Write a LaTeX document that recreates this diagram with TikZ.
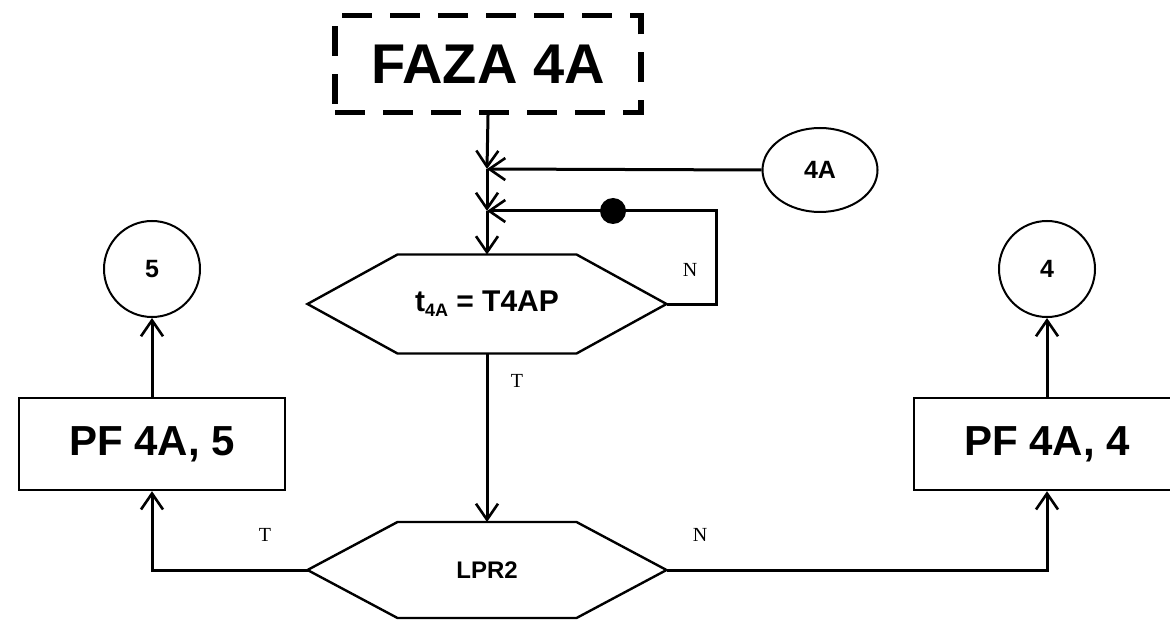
\documentclass[tikz,border=0pt]{standalone}
\usepackage{fontspec}
\setmainfont{Liberation Serif}
\setsansfont{Liberation Sans}
\usetikzlibrary{shapes.geometric,arrows.meta,calc}

\newcommand{\szesciokat}[1]{
\draw[kontur] (#1.west) -- ($(#1.north west)+(90,0)$) -- ($(#1.north east)+(-90,0)$)
  -- (#1.east) -- ($(#1.south east)+(-90,0)$) -- ($(#1.south west)+(90,0)$) -- cycle;
}
\tikzset{
faza/.style={draw,line width=2.6pt,dash pattern=on 15pt off 9pt,minimum width=153pt,minimum height=48.5pt,inner sep=0pt,font=\sffamily\bfseries\fontsize{28}{32}\selectfont},
blok/.style={draw,line width=1.2pt,minimum width=133pt,minimum height=46pt,inner sep=0pt,font=\sffamily\bfseries\fontsize{21}{24}\selectfont},
decyzja/.style={rectangle,minimum width=179.5pt,minimum height=49.5pt,inner sep=0pt,outer sep=0pt,font=\sffamily\bfseries\fontsize{15}{18}\selectfont},
kontur/.style={line width=1.2pt,line join=miter},
laczik/.style={circle,draw,line width=1pt,minimum size=48pt,inner sep=0pt,font=\sffamily\bfseries\fontsize{12.5}{14}\selectfont},
linia/.style={line width=1.5pt},
strz/.style={linia,-{Straight Barb[length=8pt,width=11pt,line width=1.3pt]}},
etykieta/.style={font=\fontsize{10}{12}\selectfont},
kropka/.style={circle,fill=black,minimum size=13pt,inner sep=0pt}
}

\begin{document}
\begin{tikzpicture}[x=0.5pt,y=-0.5pt]
    \useasboundingbox (0,0) rectangle (1170,625);

    \node[faza] (fz) at (488,64) {FAZA 4A};
    \node[laczik,ellipse,minimum width=57.5pt,minimum height=42pt] (c4A) at (820,170) {4A};
    \coordinate (j1) at (487,169);
    \coordinate (j2) at (487,211);
    \coordinate (petla) at (716,211);
    \node[decyzja] (d1) at (487,304) {t\raisebox{-0.3ex}{\fontsize{9}{10}\selectfont 4A} = T4AP};
    \node[decyzja,minimum height=48pt,font=\sffamily\bfseries\fontsize{12}{14}\selectfont] (d2) at (487,570) {LPR2};
    \szesciokat{d1}
    \szesciokat{d2}
    \node[blok] (pf5) at (152,444) {PF 4A, 5};
    \node[blok] (pf4) at (1047,444) {PF 4A, 4};
    \node[laczik] (c5) at (152,269) {5};
    \node[laczik] (c4) at (1047,269) {4};

    \draw[strz] (fz.south) -- (j1);
    \draw[strz] (c4A.west) -- (j1);
    \draw[strz] (j1) -- (j2);
    \draw[strz] (d1.east) -| (petla) -- (j2);
    \node[kropka] (kr) at (613,211) {};
    \draw[strz] (j2) -- (d1.north);
    \draw[strz] (d1.south) -- (d2.north);
    \draw[strz] (d2.west) -| (pf5.south);
    \draw[strz] (d2.east) -| (pf4.south);
    \draw[strz] (pf5.north) -- (c5.south);
    \draw[strz] (pf4.north) -- (c4.south);

    \node[etykieta] (n1) at (690,270) {N};
    \node[etykieta] (t1) at (517,381) {T};
    \node[etykieta] (t2) at (265,535) {T};
    \node[etykieta] (n2) at (700,535) {N};
\end{tikzpicture}
\end{document}
